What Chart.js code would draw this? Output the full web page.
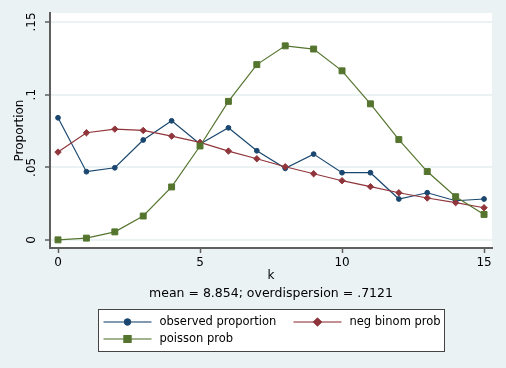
<!DOCTYPE html>
<html>
<head>
<meta charset="utf-8">
<script src="https://cdn.jsdelivr.net/npm/chart.js@4"></script>
<style>
  html, body { margin: 0; padding: 0; background: #eaf2f3; }
  #wrap { width: 506px; height: 368px; }
</style>
</head>
<body>
<div id="wrap"><canvas id="chart" width="506" height="368"></canvas></div>
<script>
// Dati
const kValues = [0, 1, 2, 3, 4, 5, 6, 7, 8, 9, 10, 11, 12, 13, 14, 15];
const observed = [0.0841, 0.0470, 0.0497, 0.0688, 0.0820, 0.0660, 0.0772, 0.0614, 0.0493, 0.0591, 0.0463, 0.0463, 0.0282, 0.0325, 0.0270, 0.0282];
const negBinom = [0.0605, 0.0738, 0.0763, 0.0754, 0.0715, 0.0672, 0.0612, 0.0559, 0.0504, 0.0456, 0.0408, 0.0367, 0.0325, 0.0289, 0.0257, 0.0222];
const poisson = [0.0001, 0.0013, 0.0056, 0.0165, 0.0365, 0.0647, 0.0954, 0.1207, 0.1336, 0.1314, 0.1164, 0.0937, 0.0691, 0.0471, 0.0298, 0.0176];
const seriesLabels = ['observed proportion', 'neg binom prob', 'poisson prob'];
const xTicks = [0, 5, 10, 15];
const yTicks = [0, 0.05, 0.1, 0.15];
const yTickLabels = ['0', '.05', '.1', '.15'];
const subtitleText = 'mean = 8.854; overdispersion = .7121';

const FONT = 'DejaVu Sans';
const BG = '#eaf2f3';

function toPoints(values) {
  return values.map((v, i) => ({ x: kValues[i], y: v }));
}

// sfondo bianco dell'area del grafico
const plotBackground = {
  id: 'plotBackground',
  beforeDraw(chart) {
    const { ctx, chartArea: a } = chart;
    ctx.save();
    ctx.fillStyle = BG;
    ctx.fillRect(0, 0, chart.width, chart.height);
    ctx.fillStyle = '#ffffff';
    ctx.fillRect(a.left, a.top, a.right - a.left, a.bottom - a.top);
    ctx.restore();
  }
};

// nota e legenda in stile Stata
const noteAndLegend = {
  id: 'noteAndLegend',
  afterDraw(chart) {
    const { ctx, chartArea: a } = chart;
    const cx = (a.left + a.right) / 2;
    ctx.save();
    ctx.fillStyle = '#000';
    ctx.font = '12.5px "' + FONT + '"';
    ctx.textAlign = 'center';
    ctx.textBaseline = 'middle';
    ctx.fillText(subtitleText, cx, 294);

    // riquadro legenda
    const boxW = 346, boxH = 42;
    const bx = Math.round(cx - boxW / 2) + 0.5, by = 309.5;
    ctx.fillStyle = '#fff';
    ctx.fillRect(bx, by, boxW, boxH);
    ctx.strokeStyle = '#444';
    ctx.lineWidth = 1;
    ctx.strokeRect(bx, by, boxW, boxH);

    const slots = [
      { x: bx + 5, y: 322 },
      { x: bx + 195, y: 322 },
      { x: bx + 5, y: 339 }
    ];
    ctx.font = '11.5px "' + FONT + '"';
    ctx.textAlign = 'left';
    chart.data.datasets.forEach((ds, i) => {
      const s = slots[i];
      ctx.globalAlpha = 0.55;
      ctx.strokeStyle = ds.borderColor;
      ctx.lineWidth = 2;
      ctx.beginPath();
      ctx.moveTo(s.x, s.y);
      ctx.lineTo(s.x + 48, s.y);
      ctx.stroke();
      ctx.globalAlpha = 1;
      Chart.helpers.drawPoint(ctx, {
        pointStyle: ds.pointStyle,
        radius: ds.pointRadius,
        borderWidth: 1
      }, s.x + 24, s.y);
      ctx.fillStyle = ds.backgroundColor;
      ctx.strokeStyle = ds.borderColor;
      ctx.fill();
      ctx.stroke();
      ctx.fillStyle = '#000';
      ctx.fillText(seriesLabels[i], s.x + 56, s.y);
    });
    ctx.restore();
  }
};

const colors = ['#1a476f', '#90353b', '#55752f'];
const styles = ['circle', 'rectRot', 'rect'];
const radii = [2.4, 3.2, 4.2];
const seriesData = [observed, negBinom, poisson];

const datasets = seriesData.map((vals, i) => ({
  label: seriesLabels[i],
  data: toPoints(vals),
  borderColor: colors[i],
  backgroundColor: colors[i],
  borderWidth: 1.2,
  pointStyle: styles[i],
  pointRadius: radii[i],
  pointBorderWidth: 1,
  pointHoverRadius: radii[i],
  tension: 0,
  order: 2 - i
}));

new Chart(document.getElementById('chart'), {
  type: 'line',
  data: { datasets: datasets },
  options: {
    responsive: false,
    animation: false,
    events: [],
    layout: { padding: { left: 0, right: 14, top: 13, bottom: 84 } },
    plugins: {
      legend: { display: false },
      tooltip: { enabled: false }
    },
    scales: {
      x: {
        type: 'linear',
        min: -0.282,
        max: 15.28,
        afterBuildTicks: (scale) => { scale.ticks = xTicks.map(v => ({ value: v })); },
        afterFit: (scale) => { scale.height = 36; },
        border: { color: '#5e5e5e', width: 2 },
        grid: { drawOnChartArea: false, drawTicks: true, tickLength: 5, tickColor: '#5e5e5e', tickWidth: 1.5 },
        ticks: {
          color: '#000',
          padding: 3,
          maxRotation: 0,
          font: { family: FONT, size: 12 },
          callback: (v) => String(v)
        },
        title: {
          display: true,
          text: 'k',
          color: '#000',
          font: { family: FONT, size: 12 },
          padding: { top: 0, bottom: 1 }
        }
      },
      y: {
        type: 'linear',
        min: -0.0055,
        max: 0.1562,
        afterBuildTicks: (scale) => { scale.ticks = yTicks.map(v => ({ value: v })); },
        afterFit: (scale) => { scale.width = 50; },
        border: { color: '#5e5e5e', width: 2 },
        grid: { color: BG, lineWidth: 2, drawTicks: true, tickLength: 5, tickColor: '#5e5e5e', tickWidth: 1.5 },
        ticks: {
          color: '#000',
          padding: 3.5,
          minRotation: 90,
          maxRotation: 90,
          crossAlign: 'center',
          font: { family: FONT, size: 12 },
          callback: (v) => yTickLabels[yTicks.indexOf(v)] ?? ''
        },
        title: {
          display: true,
          text: 'Proportion',
          color: '#000',
          font: { family: FONT, size: 12 },
          padding: { top: 12.8, bottom: 0 }
        }
      }
    }
  },
  plugins: [plotBackground, noteAndLegend]
});
</script>
</body>
</html>
